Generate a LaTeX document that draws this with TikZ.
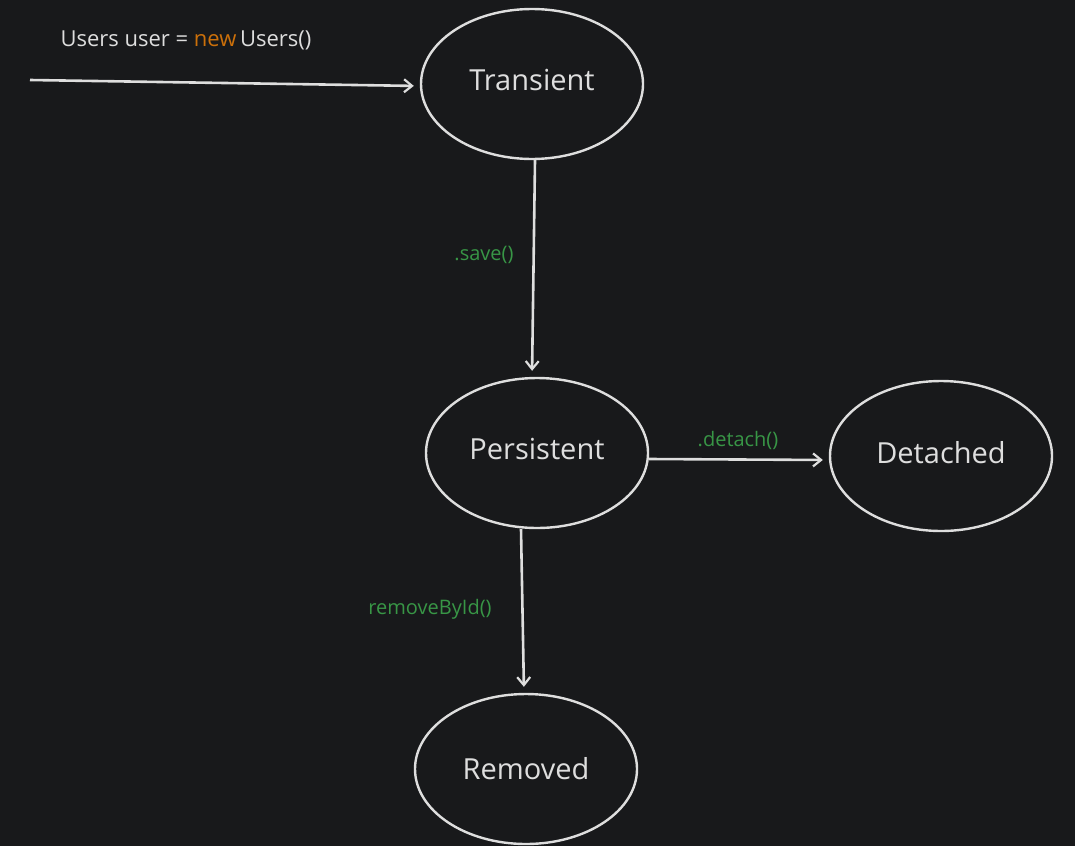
\documentclass[tikz,border=0pt]{standalone}
\usepackage{fontspec}
\setmainfont{Open Sans}
\usepackage{xcolor}
\usetikzlibrary{shapes.geometric,arrows.meta}
\definecolor{bg}{RGB}{24,25,27}
\definecolor{ink}{RGB}{222,222,222}
\definecolor{callgreen}{RGB}{56,150,70}
\definecolor{neworange}{RGB}{204,112,10}
\newcommand{\statetext}[1]{\raisebox{8pt}{#1}}
\tikzset{
  state/.style={ellipse,draw=ink,line width=2.4pt,text=ink,minimum width=222pt,minimum height=150pt,font=\fontsize{29}{33}\selectfont},
  trans/.style={draw=ink,line width=2.6pt,-{Straight Barb[length=8pt,width=13pt,line width=2.2pt]},shorten >=6pt},
  call/.style={text=callgreen,font=\fontsize{20}{24}\selectfont}
}
\begin{document}
\begin{tikzpicture}[x=1pt,y=-1pt]
                \fill[bg] (0,0) rectangle (1075,846);
                \useasboundingbox (0,0) rectangle (1075,846);
                \node[state] (transient) at (532,84) {\statetext{Transient}};
                \node[state] (persistent) at (537,453) {\statetext{Persistent}};
                \node[state] (detached) at (941,456) {\statetext{Detached}};
                \node[state] (removed) at (526,769) {Removed};
                \coordinate (start) at (30,80);
                \node[anchor=west,text=ink,font=\fontsize{22}{26}\selectfont] (code) at (57,40) {Users user = \textcolor{neworange}{new}\,Users()};
                \draw[trans] (start) -- ([yshift=-2pt]transient.west);
                \draw[trans] ([xshift=3pt]transient.south) -- ([xshift=-5pt]persistent.north);
                \draw[trans] ([yshift=-6pt]persistent.east) -- ([yshift=-4pt]detached.west);
                \draw[trans] ([xshift=-16pt]persistent.south) -- ([xshift=-2pt]removed.north);
                \node[call] (save) at (484,255) {.save()};
                \node[call] (detach) at (738,440) {.detach()};
                \node[call] (remove) at (430,609) {removeById()};
            \end{tikzpicture}
\end{document}
